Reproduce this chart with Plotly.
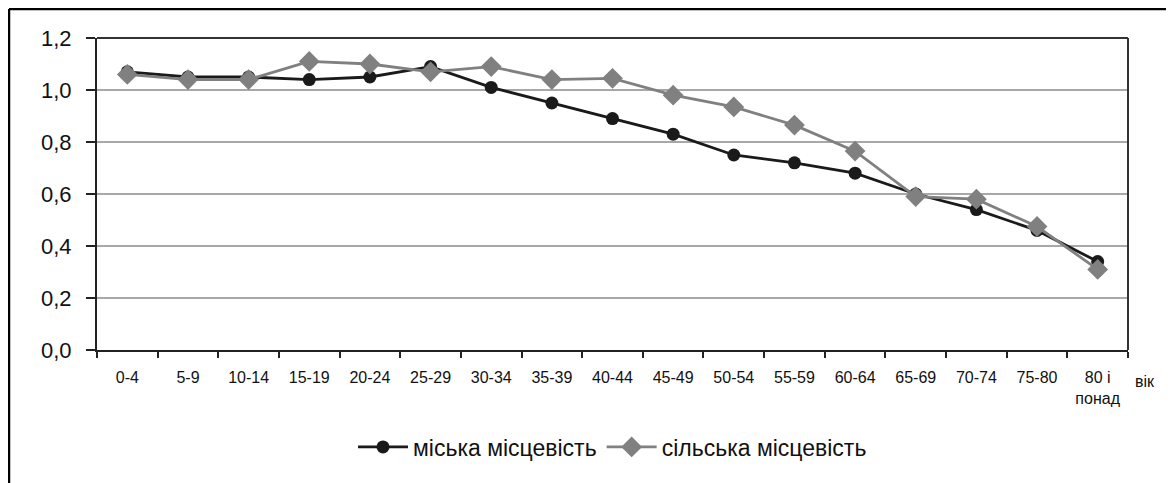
import plotly.graph_objects as go

categories = ["0-4", "5-9", "10-14", "15-19", "20-24", "25-29", "30-34", "35-39",
              "40-44", "45-49", "50-54", "55-59", "60-64", "65-69", "70-74", "75-80",
              "80 і<br>понад"]
urban = [1.07, 1.05, 1.05, 1.04, 1.05, 1.09, 1.01, 0.95, 0.89, 0.83, 0.75, 0.72,
         0.68, 0.60, 0.54, 0.46, 0.34]
rural = [1.06, 1.04, 1.04, 1.11, 1.10, 1.07, 1.09, 1.04, 1.045, 0.98, 0.935, 0.865,
         0.765, 0.59, 0.58, 0.475, 0.31]
y_ticks = [0.0, 0.2, 0.4, 0.6, 0.8, 1.0, 1.2]
y_tick_labels = ["0,0", "0,2", "0,4", "0,6", "0,8", "1,0", "1,2"]
series_names = ["міська місцевість", "сільська місцевість"]
axis_title = "вік"

FONT = "Liberation Sans, Arial, sans-serif"

# page has an 8px body margin; figure starts at (8, 8) of the window
W, H = 1166, 475
L, T, R, B = 89, 30, 1120, 342
PW, PH = R - L, B - T


def px(xp):
    return (xp - L) / PW


def py(yp):
    return (B - yp) / PH


fig = go.Figure()
fig.add_trace(go.Scatter(
    x=categories, y=urban, name=series_names[0], mode="lines+markers",
    line=dict(color="#1a1a1a", width=2.8),
    marker=dict(symbol="circle", size=13, color="#1a1a1a"),
))
fig.add_trace(go.Scatter(
    x=categories, y=rural, name=series_names[1], mode="lines+markers",
    line=dict(color="#808080", width=2.8),
    marker=dict(symbol="diamond", size=16, color="#808080"),
))

fig.update_layout(
    width=W, height=H,
    margin=dict(l=L, r=W - R, t=T, b=H - B),
    paper_bgcolor="white", plot_bgcolor="white",
    font=dict(family=FONT, color="#111111"),
    showlegend=True,
    legend=dict(orientation="h", x=0.5, xanchor="center", y=py(439), yanchor="middle",
                font=dict(size=23, family=FONT), itemwidth=50, tracegroupgap=0),
)
fig.update_xaxes(
    type="category", range=[-0.5, 16.5],
    tickson="boundaries", ticks="outside", ticklen=6, tickwidth=1.5, tickcolor="#222",
    showline=True, linecolor="#222", linewidth=2,
    mirror=False, showgrid=False,
    tickfont=dict(size=16, family=FONT), tickangle=0, ticklabelstandoff=12,
)
fig.update_yaxes(
    range=[0, 1.2], tickvals=y_ticks, ticktext=y_tick_labels,
    ticks="outside", ticklen=9, tickwidth=1.5, tickcolor="#222",
    showline=True, linecolor="#222", linewidth=2,
    showgrid=True, gridcolor="#a8a8a8", gridwidth=1.5,
    tickfont=dict(size=22, family=FONT), zeroline=False, ticklabelstandoff=10,
)
# plot-area frame (top and right)
fig.add_shape(type="line", xref="paper", yref="paper", x0=0, x1=1, y0=1, y1=1,
              line=dict(color="#333", width=2))
fig.add_shape(type="line", xref="paper", yref="paper", x0=1, x1=1, y0=0, y1=1,
              line=dict(color="#333", width=2))
# outer border (cropped at right and bottom in the original)
fig.add_shape(type="line", xref="paper", yref="paper",
              x0=px(1), x1=px(W + 10), y0=py(1), y1=py(1),
              line=dict(color="black", width=2.5))
fig.add_shape(type="line", xref="paper", yref="paper",
              x0=px(1), x1=px(1), y0=py(1), y1=py(H + 10),
              line=dict(color="black", width=2.5))
fig.add_annotation(text=axis_title, xref="paper", yref="paper",
                   x=px(1137), y=py(373),
                   xanchor="center", yanchor="middle", showarrow=False,
                   font=dict(size=16, family=FONT))

fig.write_html("out.html")
